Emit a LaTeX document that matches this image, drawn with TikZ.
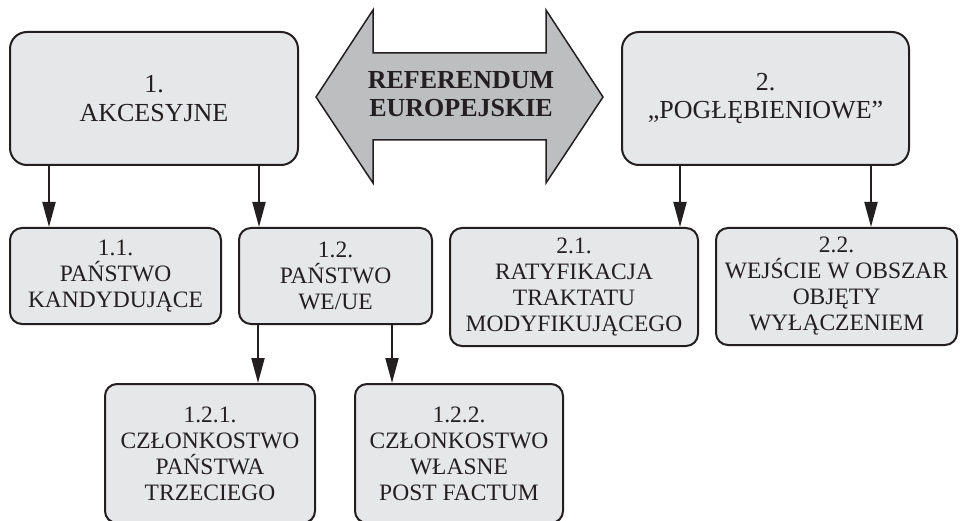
\documentclass[tikz,border=0pt]{standalone}
\usepackage{fontspec}
\setmainfont{Liberation Serif}
\usetikzlibrary{arrows.meta}
\definecolor{boxgray}{HTML}{E6E7E8}
\definecolor{arrowgray}{HTML}{BCBEC0}
\definecolor{ink}{HTML}{231F20}

\begin{document}
\begin{tikzpicture}[x=1pt, y=-1pt, line width=2pt, color=ink,
	big box/.style={rectangle, rounded corners=17pt, draw=ink, fill=boxgray, align=center, inner sep=0pt, font=\fontsize{26}{28.5}\selectfont},
	small box/.style={rectangle, rounded corners=12pt, draw=ink, fill=boxgray, align=center, inner sep=0pt, font=\fontsize{23.5}{26}\selectfont},
	down arrow/.style={-{Triangle[length=25pt, width=13pt]}}]
	\useasboundingbox (0,0) rectangle (960,521);

	% top row
	\node[big box, minimum width=288pt, minimum height=133pt] (b1) at (154,98.5) {1.\\AKCESYJNE};
	\node[big box, minimum width=287pt, minimum height=133pt] (b2) at (765.5,98.5) {2.\\„POGŁĘBIENIOWE”};
	\draw[line width=1.5pt, fill=arrowgray] (316,97) -- (373,10) -- (373,53) -- (546,53) -- (546,10) -- (603,97)
		-- (546,183) -- (546,140) -- (373,140) -- (373,183) -- cycle;
	\node[align=center, font=\fontsize{26}{28}\selectfont\bfseries] (ref) at (461,94) {REFERENDUM\\EUROPEJSKIE};

	% second row
	\node[small box, minimum width=211pt, minimum height=96pt] (b11) at (115.5,276) {1.1.\\PAŃSTWO\\KANDYDUJĄCE};
	\node[small box, minimum width=193pt, minimum height=96pt] (b12) at (335.5,276) {1.2.\\PAŃSTWO\\WE/UE};
	\node[small box, minimum width=248pt, minimum height=118pt] (b21) at (574,287) {2.1.\\RATYFIKACJA\\TRAKTATU\\MODYFIKUJĄCEGO};
	\node[small box, minimum width=241pt, minimum height=117pt] (b22) at (836.5,286.5) {2.2.\\WEJŚCIE W OBSZAR\\OBJĘTY\\WYŁĄCZENIEM};

	% third row
	\node[small box, minimum width=210pt, minimum height=139pt] (b121) at (210,453.5) {1.2.1.\\CZŁONKOSTWO\\PAŃSTWA\\TRZECIEGO};
	\node[small box, minimum width=208pt, minimum height=139pt] (b122) at (459,453.5) {1.2.2.\\CZŁONKOSTWO\\WŁASNE\\POST FACTUM};

	\draw[down arrow] (49,0 |- b1.south) -- (49,0 |- b11.north);
	\draw[down arrow] (259,0 |- b1.south) -- (259,0 |- b12.north);
	\draw[down arrow] (258,0 |- b12.south) -- (258,0 |- b121.north);
	\draw[down arrow] (392,0 |- b12.south) -- (392,0 |- b122.north);
	\draw[down arrow] (680,0 |- b2.south) -- (680,0 |- b21.north);
	\draw[down arrow] (871,0 |- b2.south) -- (871,0 |- b22.north);
\end{tikzpicture}
\end{document}
